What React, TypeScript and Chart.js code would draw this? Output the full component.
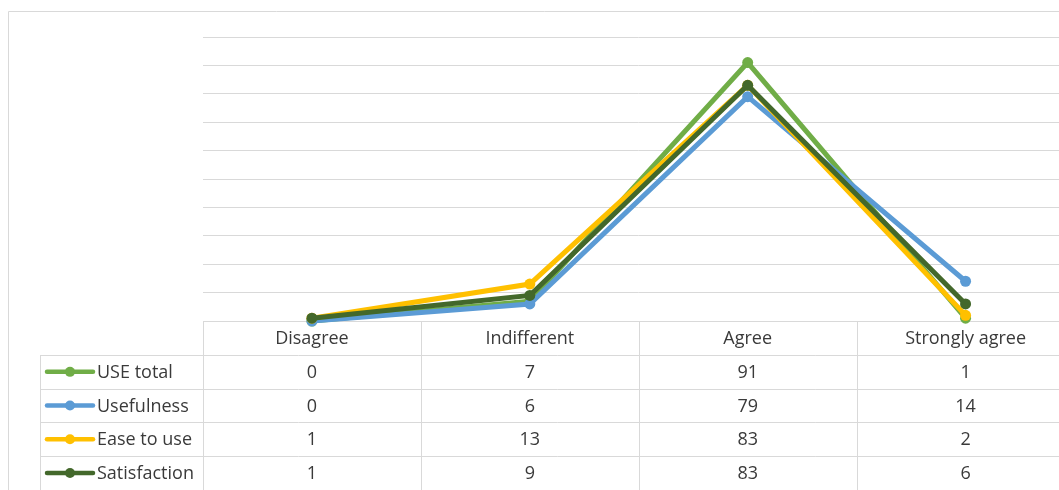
import React, { useEffect, useRef } from "react";
import { Chart, registerables } from "chart.js";

Chart.register(...registerables);

const categories = ["Disagree", "Indifferent", "Agree", "Strongly agree"];
const seriesNames = ["USE total", "Usefulness", "Ease to use", "Satisfaction"];
const useTotal = [0, 7, 91, 1];
const usefulness = [0, 6, 79, 14];
const easeToUse = [1, 13, 83, 2];
const satisfaction = [1, 9, 83, 6];
const seriesColors = ["#70AD47", "#5B9BD5", "#FFC000", "#43682B"];
const yMin = 0;
const yMax = 100;
const yStep = 10;

const FONT = "18px 'Open Sans', 'Noto Sans', sans-serif";
const TEXT = "#3A3A3A";
const LINE = "#D9D9D9";

const tablePlugin = {
  id: "dataTable",
  beforeDatasetsDraw(chart: any) {
    const ctx = chart.ctx;
    const area = chart.chartArea;
    const xs = chart.scales.x;
    const n = categories.length;
    const colW = (area.right - area.left) / n;
    const top = area.bottom;
    const headerH = 34;
    const rowH = 33.7;
    const legendLeft = 40;
    ctx.save();
    ctx.strokeStyle = LINE;
    ctx.lineWidth = 1;
    // outer chart border
    ctx.beginPath();
    ctx.moveTo(8.5, 600);
    ctx.lineTo(8.5, 11.5);
    ctx.lineTo(chart.width + 10, 11.5);
    ctx.stroke();
    const bottom = top + headerH + rowH * seriesNames.length;
    // vertical lines
    ctx.beginPath();
    for (let i = 0; i <= n; i++) {
      const x = Math.round(area.left + i * colW) + 0.5;
      ctx.moveTo(x, top);
      ctx.lineTo(x, bottom + 10);
    }
    ctx.moveTo(legendLeft + 0.5, top + headerH);
    ctx.lineTo(legendLeft + 0.5, bottom + 10);
    // horizontal lines
    ctx.moveTo(area.left, Math.round(top) + 0.5);
    ctx.lineTo(area.right, Math.round(top) + 0.5);
    for (let r = 0; r <= seriesNames.length; r++) {
      const y = Math.round(top + headerH + r * rowH) + 0.5;
      ctx.moveTo(legendLeft, y);
      ctx.lineTo(area.right, y);
    }
    ctx.stroke();

    ctx.font = FONT;
    ctx.fillStyle = TEXT;
    ctx.textAlign = "center";
    ctx.textBaseline = "middle";
    categories.forEach((c, i) => {
      ctx.fillText(c, xs.getPixelForValue(i), top + headerH / 2 + 1);
    });
    chart.data.datasets.forEach((ds: any, r: number) => {
      const cy = top + headerH + rowH * r + rowH / 2 + 1;
      ds.data.forEach((v: number, i: number) => {
        ctx.fillStyle = TEXT;
        ctx.textAlign = "center";
        ctx.fillText(String(v), xs.getPixelForValue(i), cy);
      });
      // legend key
      ctx.strokeStyle = ds.borderColor;
      ctx.lineWidth = 4.5;
      ctx.lineCap = "round";
      ctx.beginPath();
      ctx.moveTo(47, cy - 1);
      ctx.lineTo(93, cy - 1);
      ctx.stroke();
      ctx.fillStyle = ds.borderColor;
      ctx.beginPath();
      ctx.arc(70, cy - 1, 5, 0, Math.PI * 2);
      ctx.fill();
      ctx.fillStyle = TEXT;
      ctx.textAlign = "left";
      ctx.fillText(ds.label, 97, cy);
    });
    ctx.restore();
  },
};

export default function App() {
  const ref = useRef<HTMLCanvasElement>(null);
  useEffect(() => {
    if (!ref.current) return;
    const values = [useTotal, usefulness, easeToUse, satisfaction];
    const chart = new Chart(ref.current, {
      type: "line",
      data: {
        labels: categories,
        datasets: seriesNames.map((name, i) => ({
          label: name,
          data: values[i],
          borderColor: seriesColors[i],
          backgroundColor: seriesColors[i],
          borderWidth: 5,
          pointRadius: 5.5,
          pointHoverRadius: 5.5,
          pointBorderWidth: 0,
          tension: 0,
          order: seriesNames.length - 1 - i,
          clip: false as any,
        })),
      },
      options: {
        responsive: false,
        animation: false,
        devicePixelRatio: 1,
        layout: { padding: { left: 203, right: 5, top: 37, bottom: 169 } },
        plugins: {
          legend: { display: false },
          tooltip: { enabled: false },
          title: { display: false },
        },
        scales: {
          x: {
            type: "category",
            offset: true,
            display: false,
          },
          y: {
            min: yMin,
            max: yMax,
            ticks: { stepSize: yStep, display: false },
            grid: { color: LINE, lineWidth: 1, drawTicks: false },
            border: { display: false },
          },
        },
      },
      plugins: [tablePlugin],
    });
    return () => chart.destroy();
  }, []);
  return (
    <div
      style={{
        position: "absolute",
        left: 0,
        top: 0,
        width: 1059,
        height: 490,
        overflow: "hidden",
        background: "#fff",
      }}
    >
      <canvas ref={ref} width={1080} height={490} style={{ display: "block" }} />
    </div>
  );
}
